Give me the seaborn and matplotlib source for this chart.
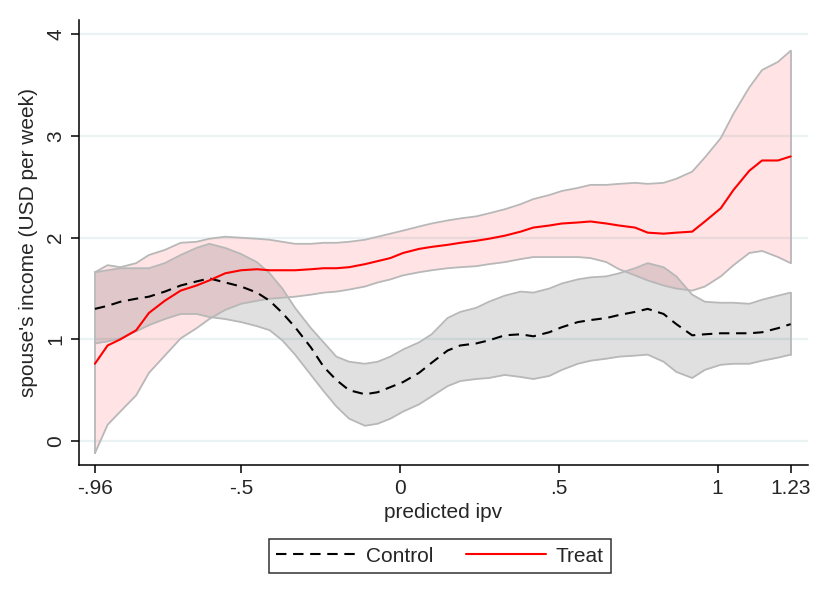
import numpy as np
import pandas as pd
import matplotlib
matplotlib.use("Agg")
import matplotlib.pyplot as plt
import seaborn as sns

# grid of predicted ipv values
ipv = [-0.96, -0.92, -0.88, -0.83, -0.79, -0.74, -0.69, -0.64, -0.6, -0.55,
       -0.5, -0.45, -0.41, -0.37, -0.33, -0.28, -0.24, -0.2, -0.16, -0.11,
       -0.07, -0.03, 0.01, 0.06, 0.1, 0.15, 0.19, 0.24, 0.28, 0.33,
       0.38, 0.42, 0.47, 0.51, 0.56, 0.6, 0.65, 0.69, 0.74, 0.78,
       0.83, 0.87, 0.92, 0.96, 1.01, 1.05, 1.1, 1.14, 1.19, 1.23]

# control: fit and 95% CI
control_fit = [1.30, 1.33, 1.37, 1.40, 1.42, 1.47, 1.53, 1.57, 1.60, 1.56,
               1.52, 1.46, 1.38, 1.26, 1.12, 0.92, 0.73, 0.60, 0.50, 0.46,
               0.48, 0.53, 0.58, 0.67, 0.77, 0.89, 0.94, 0.96, 0.99, 1.04,
               1.05, 1.03, 1.07, 1.12, 1.17, 1.19, 1.21, 1.24, 1.27, 1.30,
               1.25, 1.15, 1.04, 1.05, 1.06, 1.06, 1.06, 1.07, 1.11, 1.15]
control_hi = [1.66, 1.68, 1.70, 1.70, 1.70, 1.75, 1.83, 1.90, 1.94, 1.90,
              1.84, 1.76, 1.65, 1.50, 1.31, 1.11, 0.97, 0.83, 0.78, 0.76,
              0.78, 0.83, 0.90, 0.97, 1.05, 1.21, 1.27, 1.31, 1.37, 1.43,
              1.47, 1.46, 1.50, 1.55, 1.59, 1.61, 1.62, 1.65, 1.70, 1.75,
              1.71, 1.62, 1.44, 1.37, 1.36, 1.36, 1.35, 1.39, 1.43, 1.46]
control_lo = [0.96, 0.98, 1.01, 1.08, 1.14, 1.20, 1.25, 1.25, 1.22, 1.20,
              1.17, 1.13, 1.09, 0.99, 0.85, 0.65, 0.49, 0.34, 0.22, 0.15,
              0.17, 0.22, 0.29, 0.36, 0.44, 0.54, 0.59, 0.61, 0.62, 0.65,
              0.63, 0.61, 0.64, 0.70, 0.76, 0.79, 0.81, 0.83, 0.84, 0.85,
              0.78, 0.68, 0.62, 0.70, 0.75, 0.76, 0.76, 0.79, 0.82, 0.85]

# treat: fit and 95% CI
treat_fit = [0.76, 0.94, 1.00, 1.09, 1.26, 1.38, 1.48, 1.53, 1.58, 1.65,
             1.68, 1.69, 1.68, 1.68, 1.68, 1.69, 1.70, 1.70, 1.71, 1.74,
             1.77, 1.80, 1.85, 1.89, 1.91, 1.93, 1.95, 1.97, 1.99, 2.02,
             2.06, 2.10, 2.12, 2.14, 2.15, 2.16, 2.14, 2.12, 2.10, 2.05,
             2.04, 2.05, 2.06, 2.16, 2.29, 2.47, 2.66, 2.76, 2.76, 2.80]
treat_hi = [1.66, 1.73, 1.71, 1.75, 1.83, 1.88, 1.95, 1.96, 1.99, 2.01,
            2.00, 1.99, 1.98, 1.96, 1.94, 1.94, 1.95, 1.95, 1.96, 1.98,
            2.01, 2.04, 2.07, 2.11, 2.14, 2.17, 2.19, 2.21, 2.24, 2.28,
            2.33, 2.38, 2.42, 2.46, 2.49, 2.52, 2.52, 2.53, 2.54, 2.53,
            2.54, 2.58, 2.65, 2.79, 2.98, 3.22, 3.48, 3.65, 3.73, 3.84]
treat_lo = [-0.12, 0.16, 0.29, 0.45, 0.67, 0.84, 1.01, 1.11, 1.20, 1.29,
            1.35, 1.38, 1.40, 1.41, 1.42, 1.44, 1.46, 1.47, 1.49, 1.52,
            1.56, 1.59, 1.63, 1.66, 1.68, 1.70, 1.71, 1.72, 1.74, 1.76,
            1.79, 1.81, 1.81, 1.81, 1.81, 1.80, 1.76, 1.69, 1.63, 1.58,
            1.53, 1.50, 1.48, 1.52, 1.62, 1.73, 1.85, 1.87, 1.81, 1.75]

xticks = [-0.96, -0.5, 0, 0.5, 1, 1.23]
xticklabels = ["-.96", "-.5", "0", ".5", "1", "1.23"]
yticks = [0, 1, 2, 3, 4]

df = pd.DataFrame({"ipv": ipv,
                   "control": control_fit, "control_lo": control_lo, "control_hi": control_hi,
                   "treat": treat_fit, "treat_lo": treat_lo, "treat_hi": treat_hi})

sns.set_style("white")
plt.rcParams["font.family"] = ["Liberation Sans", "DejaVu Sans"]
plt.rcParams["font.size"] = 15

fig = plt.figure(figsize=(8.24, 5.95), dpi=100)
ax = fig.add_axes([0.0959, 0.2185, 0.8841, 0.7475])

for y in yticks:
    ax.axhline(y, color="#eaf2f3", lw=1.6, zorder=0)

edge = "#b8b8b8"
ax.fill_between(df["ipv"], df["treat_lo"], df["treat_hi"], color="#ff1a2a",
                alpha=0.12, lw=0, zorder=1)
ax.fill_between(df["ipv"], df["control_lo"], df["control_hi"], color="#000000",
                alpha=0.12, lw=0, zorder=2)
for col in ["treat_lo", "treat_hi", "control_lo", "control_hi"]:
    ax.plot(df["ipv"], df[col], color=edge, lw=1.3, zorder=3)
ax.plot([ipv[0], ipv[0]], [treat_lo[0], treat_hi[0]], color=edge, lw=1.3, zorder=3)
ax.plot([ipv[-1], ipv[-1]], [treat_lo[-1], treat_hi[-1]], color=edge, lw=1.3, zorder=3)
ax.plot([ipv[-1], ipv[-1]], [control_lo[-1], control_hi[-1]], color=edge, lw=1.3, zorder=3)

sns.lineplot(data=df, x="ipv", y="control", ax=ax, color="black", lw=1.5,
             linestyle=(0, (5, 3.2)), label="Control", zorder=4)
sns.lineplot(data=df, x="ipv", y="treat", ax=ax, color="#ff0000", lw=1.5,
             label="Treat", zorder=5)

ax.set_xlim(-1.01, 1.283)
ax.set_ylim(-0.236, 4.14)
ax.set_xticks(xticks)
ax.set_xticklabels(xticklabels)
ax.set_yticks(yticks)
ax.set_yticklabels([str(v) for v in yticks], rotation=90, va="center")
ax.tick_params(axis="both", direction="out", length=6, width=1.1, color="black",
               labelsize=15, pad=4)
ax.tick_params(axis="x", bottom=True)
ax.tick_params(axis="y", left=True)
for s in ["top", "right"]:
    ax.spines[s].set_visible(False)
for s in ["left", "bottom"]:
    ax.spines[s].set_color("black")
    ax.spines[s].set_linewidth(1.1)

ax.set_xlabel("predicted ipv", fontsize=15, labelpad=4)
ax.set_ylabel("spouse's income (USD per week)", fontsize=15, labelpad=6)

ax.get_legend().remove()
handles, labels = ax.get_legend_handles_labels()
leg = fig.legend(handles, labels, loc="center", bbox_to_anchor=(440 / 824, 1 - 556 / 595),
                 ncol=2, frameon=True, fancybox=False, edgecolor="black",
                 fontsize=15, handlelength=3.8, handletextpad=0.5, columnspacing=1.6,
                 borderpad=0.35)
leg.get_frame().set_linewidth(1.1)

fig.savefig("out.png", dpi=100)
